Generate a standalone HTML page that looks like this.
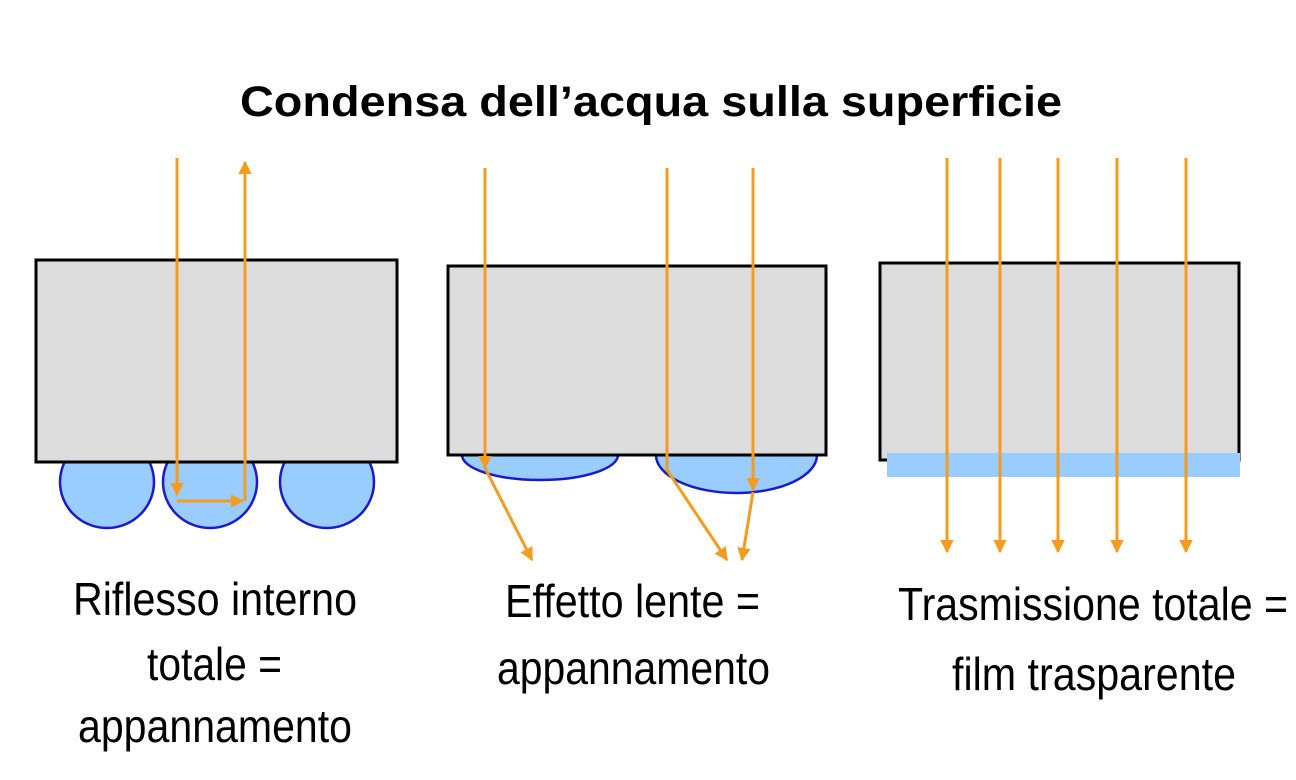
<!DOCTYPE html>
<html><head><meta charset="utf-8"><style>html,body{margin:0;padding:0;background:#fff}svg{display:block}</style></head>
<body>
<svg width="1296" height="780" viewBox="0 0 1296 780" xmlns="http://www.w3.org/2000/svg">
<defs>
<marker id="a" viewBox="0 0 10 10" refX="9" refY="5" markerWidth="4.5" markerHeight="4.5" orient="auto" markerUnits="strokeWidth"><path d="M0,0L10,5L0,10z" fill="#f39c1f"/></marker>
</defs>
<text x="240" y="116" font-family="Liberation Sans, sans-serif" font-weight="bold" font-size="43" textLength="822" lengthAdjust="spacingAndGlyphs">Condensa dell’acqua sulla superficie</text>

<!-- panel 1 -->
<g fill="#99ccff" stroke="#1a1acc" stroke-width="2.5">
<ellipse cx="107" cy="482" rx="47" ry="46"/>
<ellipse cx="210" cy="482" rx="47" ry="46"/>
<ellipse cx="327" cy="482" rx="47" ry="46"/>
</g>
<rect x="36" y="260" width="361" height="202" fill="#dcdcdc" stroke="#000" stroke-width="3"/>
<g stroke="#f39c1f" stroke-width="3" fill="none">
<line x1="177" y1="158" x2="177" y2="495" marker-end="url(#a)"/>
<line x1="177" y1="501" x2="243" y2="501" marker-end="url(#a)"/>
<line x1="245" y1="501" x2="245" y2="162" marker-end="url(#a)"/>
</g>

<!-- panel 2 -->
<g fill="#99ccff" stroke="#1a1acc" stroke-width="2.5">
<path d="M462,455 A78,25 0 0 0 618,455 Z"/>
<path d="M656,455 A80.5,38 0 0 0 817,455 Z"/>
</g>
<rect x="448" y="266" width="378" height="189" fill="#dcdcdc" stroke="#000" stroke-width="3"/>
<g stroke="#f39c1f" stroke-width="3" fill="none">
<polyline points="485,168 485,468 532,560" marker-end="url(#a)"/>
<line x1="485" y1="440" x2="485" y2="468" marker-end="url(#a)"/>
<polyline points="667,168 667,470 727,560" marker-end="url(#a)"/>
<line x1="753" y1="168" x2="753" y2="490" marker-end="url(#a)"/>
<line x1="753" y1="492" x2="742" y2="560" marker-end="url(#a)"/>
</g>

<!-- panel 3 -->
<rect x="880" y="263" width="359" height="197" fill="#dcdcdc" stroke="#000" stroke-width="3"/>
<rect x="887" y="453" width="353" height="24" fill="#99ccff"/>
<g stroke="#f39c1f" stroke-width="3" fill="none">
<line x1="947" y1="158" x2="947" y2="552" marker-end="url(#a)"/>
<line x1="1000" y1="158" x2="1000" y2="552" marker-end="url(#a)"/>
<line x1="1058" y1="158" x2="1058" y2="552" marker-end="url(#a)"/>
<line x1="1117" y1="158" x2="1117" y2="552" marker-end="url(#a)"/>
<line x1="1186" y1="158" x2="1186" y2="552" marker-end="url(#a)"/>
</g>

<g font-family="Liberation Sans, sans-serif" font-size="46" fill="#000">
<text x="73" y="615" textLength="284" lengthAdjust="spacingAndGlyphs">Riflesso interno</text>
<text x="147" y="680" textLength="135" lengthAdjust="spacingAndGlyphs">totale =</text>
<text x="78" y="742" textLength="274" lengthAdjust="spacingAndGlyphs">appannamento</text>
<text x="505" y="617" textLength="255" lengthAdjust="spacingAndGlyphs">Effetto lente =</text>
<text x="497" y="684" textLength="273" lengthAdjust="spacingAndGlyphs">appannamento</text>
<text x="898" y="620" textLength="390" lengthAdjust="spacingAndGlyphs">Trasmissione totale =</text>
<text x="952" y="690" textLength="284" lengthAdjust="spacingAndGlyphs">film trasparente</text>
</g>
</svg>
</body></html>
